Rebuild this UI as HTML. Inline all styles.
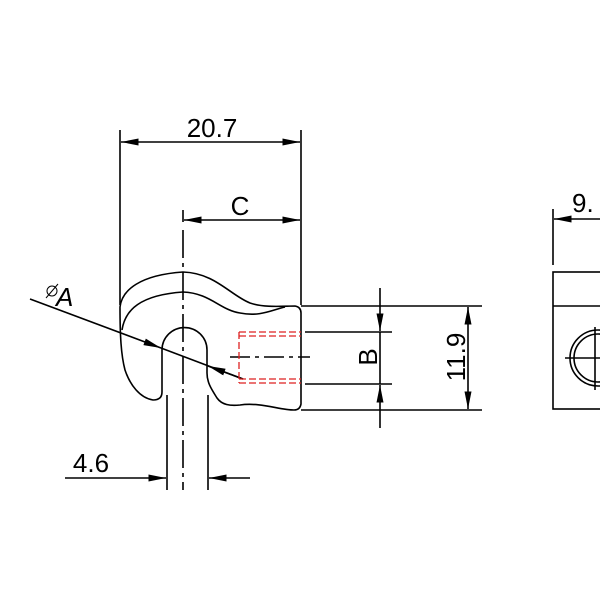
<!DOCTYPE html>
<html><head><style>body{margin:0;background:#fff}svg{display:block}</style></head><body>
<svg width="600" height="600" viewBox="0 0 600 600" xmlns="http://www.w3.org/2000/svg" font-family="Liberation Sans, sans-serif">
<defs>
<marker id="a" viewBox="0 0 10 4" refX="10" refY="2" markerWidth="19" markerHeight="7" markerUnits="userSpaceOnUse" orient="auto-start-reverse"><path d="M0,0L10,2L0,4z" fill="#000"/></marker>
</defs>
<g stroke="#000" stroke-width="1.6" fill="none">
<line x1="120" y1="130" x2="120" y2="305"/>
<line x1="301" y1="130" x2="301" y2="305"/>
<line x1="121" y1="142" x2="300" y2="142" marker-start="url(#a)" marker-end="url(#a)"/>
<line x1="183" y1="210" x2="183" y2="222"/>
<line x1="184" y1="220" x2="300" y2="220" marker-start="url(#a)" marker-end="url(#a)"/>
<line x1="183" y1="230" x2="183" y2="490" stroke-dasharray="28,5,4,5"/>
<path d="M120,307 C122,290 140,275 183,272 C215,273 230,295 250,303 C265,308 283,306 295,306 Q301,307 301,313 L301,404 Q300,410 294,410 C280,410 260,402 240,405 C230,406 222,405 217,398 C212,390 207,383 207,373 L207,350 A22.5,22.5 0 0 0 162,350 L162,392 Q162,400 153,400 C140,398 130,385 125,370 C121,355 120,335 120,307 Z"/>
<path d="M122,330 C125,310 140,295 183,292 C210,293 220,310 240,313 C260,317 272,310 285,307"/>
<line x1="167" y1="395" x2="167" y2="490"/>
<line x1="208" y1="395" x2="208" y2="490"/>
<line x1="65" y1="478" x2="166" y2="478" marker-end="url(#a)"/>
<line x1="250" y1="478" x2="209" y2="478" marker-end="url(#a)"/>
<line x1="30" y1="299" x2="161" y2="348" marker-end="url(#a)"/>
<line x1="161" y1="348" x2="243" y2="379"/>
<line x1="243" y1="379" x2="208" y2="366" marker-end="url(#a)"/>
<line x1="301" y1="306" x2="482" y2="306"/>
<line x1="301" y1="410" x2="482" y2="410"/>
<line x1="305" y1="332" x2="392" y2="332"/>
<line x1="305" y1="384" x2="392" y2="384"/>
<line x1="380" y1="288" x2="380" y2="331" marker-end="url(#a)"/>
<line x1="380" y1="428" x2="380" y2="385" marker-end="url(#a)"/>
<line x1="380" y1="332" x2="380" y2="384"/>
<line x1="468" y1="307" x2="468" y2="409" marker-start="url(#a)" marker-end="url(#a)"/>
<line x1="230" y1="357" x2="310" y2="357" stroke-dasharray="20,5,4,5"/>
<line x1="553" y1="209" x2="553" y2="265"/>
<line x1="600" y1="219" x2="554" y2="219" marker-end="url(#a)"/>
<rect x="553" y="272" width="60" height="137"/>
<line x1="553" y1="306" x2="600" y2="306"/>
<circle cx="598" cy="358" r="28"/>
<circle cx="598" cy="358" r="24"/>
<line x1="565" y1="358" x2="600" y2="358"/>
<line x1="595" y1="327" x2="595" y2="390"/>
</g>
<g stroke="#d22" stroke-width="1.3" fill="none" stroke-dasharray="7,3">
<line x1="239" y1="332" x2="301" y2="332"/>
<line x1="239" y1="336" x2="301" y2="336"/>
<line x1="239" y1="379" x2="301" y2="379"/>
<line x1="239" y1="383" x2="301" y2="383"/>
<line x1="239" y1="332" x2="239" y2="383"/>
</g>
<g font-size="26" fill="#000">
<text x="212" y="137" text-anchor="middle">20.7</text>
<text x="240" y="215" text-anchor="middle">C</text>
<text x="91" y="472" text-anchor="middle">4.6</text>
<text x="572" y="212">9.</text>
<text transform="translate(377,357) rotate(-90)" text-anchor="middle">B</text>
<text transform="translate(465,357) rotate(-90)" text-anchor="middle">11.9</text>
<text x="56" y="306" font-style="italic">A</text>
</g>
<g stroke="#000" stroke-width="1" fill="none"><circle cx="52" cy="291" r="5"/><line x1="46" y1="298" x2="58" y2="284"/></g>
</svg>
</body></html>
